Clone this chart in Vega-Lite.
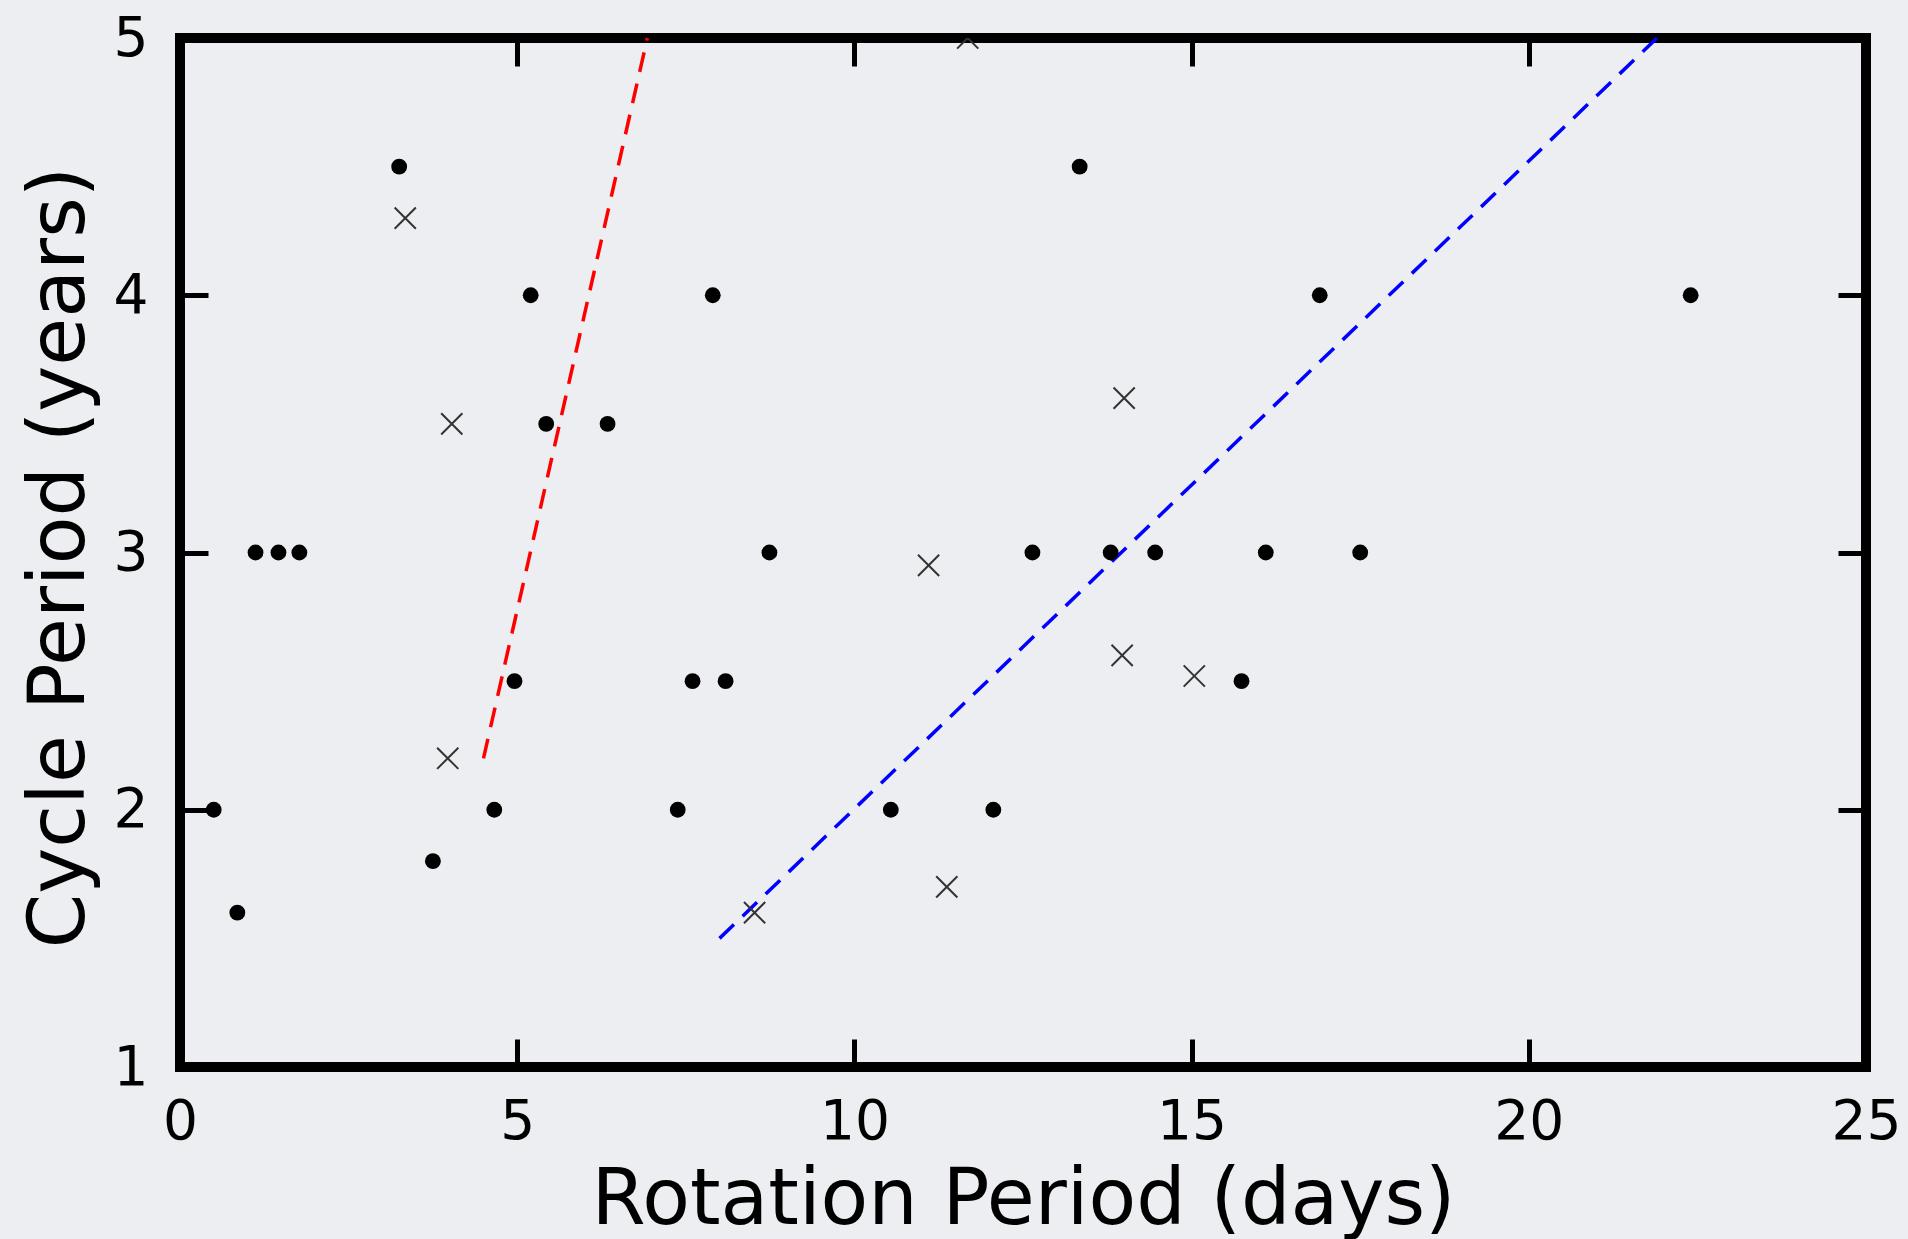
{
  "$schema": "https://vega.github.io/schema/vega-lite/v6.json",
  "width": 1686,
  "height": 1029,
  "autosize": {"type": "none"},
  "padding": {"left": 180, "top": 38, "right": 42, "bottom": 172},
  "background": "#eceef1",
  "config": {
    "view": {"stroke": "#000000", "strokeWidth": 10, "fill": null},
    "font": "DejaVu Sans",
    "axis": {
      "domain": false,
      "grid": false,
      "tickColor": "#000000",
      "tickWidth": 5,
      "tickSize": -28,
      "labelFont": "DejaVu Sans",
      "labelFontSize": 55,
      "labelColor": "#000000",
      "labelFlush": false,
      "labelOverlap": false,
      "titleFont": "DejaVu Sans",
      "titleFontSize": 78,
      "titleFontWeight": "normal",
      "titleColor": "#000000"
    }
  },
  "datasets": {
    "points": [
      {"rot": 3.25, "cyc": 4.5, "kind": "dot"},
      {"rot": 5.2, "cyc": 4.0, "kind": "dot"},
      {"rot": 7.9, "cyc": 4.0, "kind": "dot"},
      {"rot": 13.34, "cyc": 4.5, "kind": "dot"},
      {"rot": 16.9, "cyc": 4.0, "kind": "dot"},
      {"rot": 22.4, "cyc": 4.0, "kind": "dot"},
      {"rot": 5.43, "cyc": 3.5, "kind": "dot"},
      {"rot": 6.34, "cyc": 3.5, "kind": "dot"},
      {"rot": 1.12, "cyc": 3.0, "kind": "dot"},
      {"rot": 1.46, "cyc": 3.0, "kind": "dot"},
      {"rot": 1.77, "cyc": 3.0, "kind": "dot"},
      {"rot": 8.74, "cyc": 3.0, "kind": "dot"},
      {"rot": 12.64, "cyc": 3.0, "kind": "dot"},
      {"rot": 13.8, "cyc": 3.0, "kind": "dot"},
      {"rot": 14.46, "cyc": 3.0, "kind": "dot"},
      {"rot": 16.1, "cyc": 3.0, "kind": "dot"},
      {"rot": 17.5, "cyc": 3.0, "kind": "dot"},
      {"rot": 4.96, "cyc": 2.5, "kind": "dot"},
      {"rot": 7.6, "cyc": 2.5, "kind": "dot"},
      {"rot": 8.09, "cyc": 2.5, "kind": "dot"},
      {"rot": 15.74, "cyc": 2.5, "kind": "dot"},
      {"rot": 0.5, "cyc": 2.0, "kind": "dot"},
      {"rot": 4.66, "cyc": 2.0, "kind": "dot"},
      {"rot": 7.38, "cyc": 2.0, "kind": "dot"},
      {"rot": 10.54, "cyc": 2.0, "kind": "dot"},
      {"rot": 12.06, "cyc": 2.0, "kind": "dot"},
      {"rot": 3.75, "cyc": 1.8, "kind": "dot"},
      {"rot": 0.85, "cyc": 1.6, "kind": "dot"},
      {"rot": 3.34, "cyc": 4.3, "kind": "cross"},
      {"rot": 4.03, "cyc": 3.5, "kind": "cross"},
      {"rot": 3.97, "cyc": 2.2, "kind": "cross"},
      {"rot": 11.68, "cyc": 5.0, "kind": "cross"},
      {"rot": 14.0, "cyc": 3.6, "kind": "cross"},
      {"rot": 11.1, "cyc": 2.95, "kind": "cross"},
      {"rot": 13.97, "cyc": 2.6, "kind": "cross"},
      {"rot": 15.04, "cyc": 2.52, "kind": "cross"},
      {"rot": 11.37, "cyc": 1.7, "kind": "cross"},
      {"rot": 8.52, "cyc": 1.6, "kind": "cross"}
    ],
    "lines": [
      {"rot": 4.5, "cyc": 2.2, "fit": "red"},
      {"rot": 6.93, "cyc": 5.0, "fit": "red"},
      {"rot": 8.0, "cyc": 1.5, "fit": "blue"},
      {"rot": 21.9, "cyc": 5.0, "fit": "blue"}
    ]
  },
  "resolve": {"axis": {"x": "independent", "y": "independent"}},
  "layer": [
    {
      "data": {"name": "lines"},
      "mark": {"type": "line", "strokeWidth": 3.5, "strokeDash": [20, 12]},
      "encoding": {
        "x": {"field": "rot", "type": "quantitative", "scale": {"domain": [0, 25], "nice": false, "zero": false},
              "axis": {"orient": "top", "values": [0, 5, 10, 15, 20, 25], "labels": false, "title": null}},
        "y": {"field": "cyc", "type": "quantitative", "scale": {"domain": [1, 5], "nice": false, "zero": false},
              "axis": {"orient": "right", "values": [1, 2, 3, 4, 5], "labels": false, "title": null}},
        "color": {"field": "fit", "type": "nominal", "scale": {"domain": ["red", "blue"], "range": ["#ff0000", "#0000ff"]}, "legend": null}
      }
    },
    {
      "data": {"name": "points"},
      "transform": [{"filter": "datum.kind === 'dot'"}],
      "mark": {"type": "point", "shape": "circle", "filled": true, "size": 250, "color": "#000000", "opacity": 1, "clip": true},
      "encoding": {
        "x": {"field": "rot", "type": "quantitative",
              "axis": {"orient": "bottom", "values": [0, 5, 10, 15, 20, 25], "labelPadding": 56, "title": "Rotation Period (days)", "titleBaseline": "alphabetic", "titleY": 156}},
        "y": {"field": "cyc", "type": "quantitative",
              "axis": {"orient": "left", "values": [1, 2, 3, 4, 5], "labelPadding": 60, "title": "Cycle Period (years)", "titleBaseline": "alphabetic", "titleX": -97, "titleY": 519}}
      }
    },
    {
      "data": {"name": "points"},
      "transform": [{"filter": "datum.kind === 'cross'"}],
      "mark": {"type": "point", "shape": "M-1,-1L1,1M-1,1L1,-1", "filled": false, "size": 450, "stroke": "#333333", "strokeWidth": 2, "opacity": 1, "clip": true},
      "encoding": {
        "x": {"field": "rot", "type": "quantitative", "axis": null},
        "y": {"field": "cyc", "type": "quantitative", "axis": null}
      }
    }
  ]
}
